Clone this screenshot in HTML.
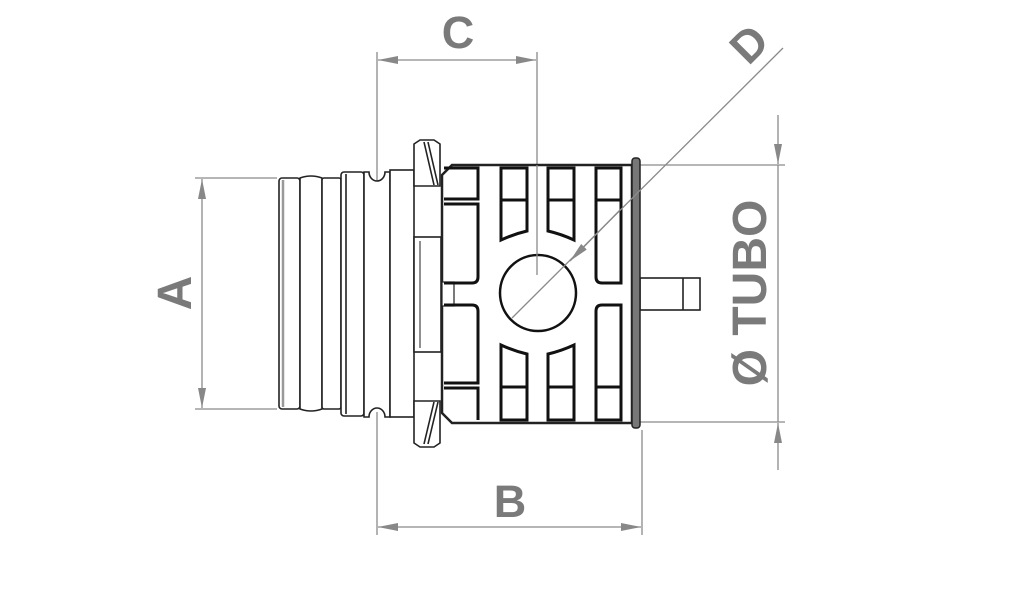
<!DOCTYPE html>
<html><head><meta charset="utf-8"><style>
html,body{margin:0;padding:0;background:#fff;}
svg{display:block;}
text{font-family:"Liberation Sans",sans-serif;font-weight:bold;fill:#7a7a7a;}
</style></head><body>
<svg width="1024" height="609" viewBox="0 0 1024 609" xmlns="http://www.w3.org/2000/svg">
<defs>
<marker id="ar" viewBox="0 0 20 8" refX="20" refY="4" markerWidth="20" markerHeight="8" orient="auto-start-reverse" markerUnits="userSpaceOnUse">
<path d="M0,0 L20,4 L0,8 Z" fill="#888"/></marker>
</defs>
<g stroke="#8a8a8a" stroke-width="1.3" fill="none">
<line x1="195" y1="178" x2="277" y2="178"/>
<line x1="195" y1="409" x2="277" y2="409"/>
<line x1="202" y1="179" x2="202" y2="408" marker-start="url(#ar)" marker-end="url(#ar)"/>
<line x1="377" y1="52" x2="377" y2="186"/>
<line x1="537" y1="52" x2="537" y2="275"/>
<line x1="378" y1="60" x2="536" y2="60" marker-start="url(#ar)" marker-end="url(#ar)"/>
<line x1="377" y1="412" x2="377" y2="535"/>
<line x1="642" y1="430" x2="642" y2="535"/>
<line x1="378" y1="527" x2="641" y2="527" marker-start="url(#ar)" marker-end="url(#ar)"/>
<line x1="640" y1="165" x2="785" y2="165"/>
<line x1="640" y1="422" x2="785" y2="422"/>
<line x1="778" y1="115" x2="778" y2="164" marker-end="url(#ar)"/>
<line x1="778" y1="470" x2="778" y2="423" marker-end="url(#ar)"/>
<line x1="778" y1="165" x2="778" y2="422"/>
</g>
<text x="458" y="48" font-size="45" text-anchor="middle">C</text>
<text x="510" y="517" font-size="45" text-anchor="middle">B</text>
<text transform="translate(191,293) rotate(-90)" font-size="48" text-anchor="middle">A</text>
<text transform="translate(766,293) rotate(-90)" font-size="48" text-anchor="middle">Ø TUBO</text>
<text transform="translate(760,55) rotate(-45)" font-size="45" text-anchor="middle">D</text>

<g stroke="#222" stroke-width="1.6" fill="#fff">
<rect x="279" y="178" width="21" height="231" rx="3"/>
<line x1="283" y1="180" x2="283" y2="407" stroke="#999" stroke-width="2.5"/>
<path d="M300,178 q11,-4 22,0 v231 q-11,4 -22,0 z"/>
<rect x="322" y="178" width="19" height="231" rx="2"/>
<rect x="341" y="172" width="23" height="244" rx="3"/>
<line x1="346" y1="174" x2="346" y2="414"/>
<path d="M364,172 h5 a8,9 0 0 0 16,0 h5 v245 h-5 a8,9 0 0 0 -16,0 h-5 z"/>
<rect x="390" y="170" width="24" height="247"/>
<path d="M414,144 l6,-4 h14 l6,4 v42 h-26 z"/>
<path d="M414,401 h26 v42 l-6,4 h-14 l-6,-4 z"/>
<line x1="424" y1="142" x2="434" y2="185"/>
<line x1="428" y1="142" x2="438" y2="185"/>
<line x1="424" y1="444" x2="434" y2="402"/>
<line x1="428" y1="444" x2="438" y2="402"/>
<rect x="414" y="237" width="27" height="115"/>
<line x1="420" y1="241" x2="420" y2="348" stroke-width="1"/>
<path d="M442,175 l10,-10 h180 v258 h-180 l-10,-10 z" stroke-width="2.5"/>
<rect x="442" y="282" width="12" height="24" stroke-width="1.2"/>
<rect x="640" y="278" width="60" height="32"/>
<line x1="683" y1="278" x2="683" y2="310"/>
</g>
<g stroke="#111" stroke-width="3" fill="none">
<path d="M444,168 h34 v31 h-34"/>
<path d="M444,204 h34 v73 q0,6 -6,6 h-28"/>
<path d="M444,305 h28 q6,0 6,6 v72 h-34"/>
<path d="M444,388 h34 v32"/>
<path d="M501,168 h26 v63 q-13,3 -26,9 z"/>
<line x1="501" y1="200" x2="527" y2="200"/>
<path d="M548,168 h26 v72 q-13,-6 -26,-9 z"/>
<line x1="548" y1="200" x2="574" y2="200"/>
<path d="M596,168 h25 v115 h-19 q-6,0 -6,-6 z"/>
<line x1="596" y1="200" x2="621" y2="200"/>
<path d="M501,345 q13,6 26,9 v66 h-26 z"/>
<line x1="501" y1="387" x2="527" y2="387"/>
<path d="M548,354 q13,-3 26,-9 v75 h-26 z"/>
<line x1="548" y1="387" x2="574" y2="387"/>
<path d="M602,305 h19 v115 h-25 v-109 q0,-6 6,-6 z"/>
<line x1="596" y1="387" x2="621" y2="387"/>
<circle cx="538" cy="293" r="38" stroke-width="2.5"/>
</g>
<rect x="632" y="158" width="8" height="270" rx="3" fill="#777" stroke="#222" stroke-width="1.5"/>
<g stroke="#8a8a8a" stroke-width="1.3" fill="none">
<line x1="537" y1="165" x2="537" y2="275"/>
<line x1="783" y1="48" x2="512" y2="318"/>
<line x1="620" y1="210" x2="570" y2="261" marker-end="url(#ar)"/>
</g>
</svg>
</body></html>
